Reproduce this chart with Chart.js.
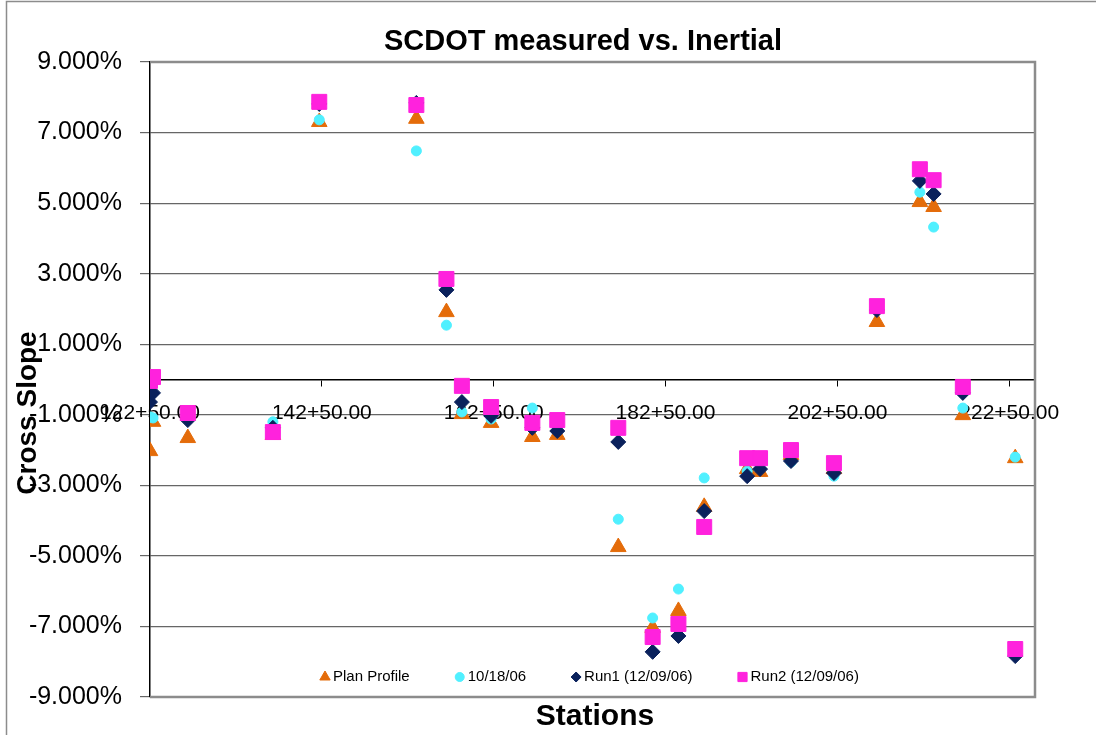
<!DOCTYPE html>
<html lang="en">
<head>
    <meta charset="UTF-8">
    <title>SCDOT measured vs. Inertial</title>
    <style>
        body {
            margin: 0;
            background: #fff;
        }
        .chart-box {
            width: 1096px;
            height: 735px;
        }
    </style>
    <script src="https://cdn.jsdelivr.net/npm/chart.js"></script>
</head>
<body>
    <div class="chart-box">
        <canvas id="slopeChart" width="1096" height="735"></canvas>
    </div>

    <script>
        // Stations (x) and cross slope in percent (y) per series
        const stations = [12250, 12285, 12690, 13680, 14220, 15350, 15700, 15880, 16220, 16700, 16990, 17700,
                          18100, 18400, 18700, 19200, 19350, 19710, 20210, 20710, 21210, 21370, 21710, 22320];
        const planProfile = [-2.03, -1.20, -1.66, -1.57, 7.30, 7.39, 1.91, -0.98, -1.23, -1.63, -1.57, -4.75,
                             -7.04, -6.56, -3.61, -2.54, -2.62, -2.14, -2.54, 1.63, 5.03, 4.89, -1.01, -2.23];
        const run101806 = [-1.06, -1.09, -1.09, -1.20, 7.36, 6.48, 1.54, -0.92, -1.12, -0.81, -1.43, -3.96,
                           -6.76, -5.94, -2.79, -2.60, -2.50, -2.34, -2.74, 1.97, 5.31, 4.32, -0.81, -2.20];
        const run1 = [-0.64, -0.38, -1.15, -1.37, 7.81, 7.84, 2.54, -0.64, -1.03, -1.37, -1.46, -1.77,
                      -7.72, -7.27, -3.73, -2.74, -2.54, -2.31, -2.65, 1.97, 5.63, 5.26, -0.38, -7.84];
        const run2 = [-0.04, 0.07, -0.95, -1.49, 7.87, 7.78, 2.85, -0.18, -0.78, -1.23, -1.15, -1.37,
                      -7.30, -6.93, -4.18, -2.23, -2.23, -2.00, -2.37, 2.08, 5.96, 5.65, -0.21, -7.64];

        const xTickValues = [12250, 14250, 16250, 18250, 20250, 22250];
        const seriesNames = ['Plan Profile', '10/18/06', 'Run1 (12/09/06)', 'Run2 (12/09/06)'];

        function toPoints(ys) {
            return stations.map((s, i) => ({ x: s, y: ys[i] }));
        }

        // station number -> "122+50.00"
        function stationLabel(v) {
            const hundreds = Math.floor(v / 100);
            const rest = (v - hundreds * 100).toFixed(2).padStart(5, '0');
            return hundreds + '+' + rest;
        }

        const FONT = '"Liberation Sans", Arial, sans-serif';

        const colors = ['#e46c0a', '#50f0ff', '#0a215c', '#ff22dd'];
        const styles = ['triangle', 'circle', 'rectRot', 'rect'];
        const radii = [9, 5, 7.5, 10.6];
        const legendRadii = [6, 4.5, 5, 6.5];
        const values = [planProfile, run101806, run1, run2];

        // titles, borders and the legend that sits inside the plot
        const decorations = {
            id: 'decorations',
            beforeDraw(chart) {
                const ctx = chart.ctx;
                ctx.save();
                ctx.fillStyle = '#fff';
                ctx.fillRect(0, 0, chart.width, chart.height);
                ctx.strokeStyle = '#8c8c8c';
                ctx.lineWidth = 1.5;
                ctx.beginPath();
                ctx.moveTo(6.5, chart.height);
                ctx.lineTo(6.5, 1.5);
                ctx.lineTo(chart.width, 1.5);
                ctx.stroke();
                ctx.restore();
            },
            afterDraw(chart) {
                const ctx = chart.ctx;
                const a = chart.chartArea;
                ctx.save();

                // plot area frame (top, right, bottom)
                ctx.strokeStyle = '#8c8c8c';
                ctx.lineWidth = 2.5;
                ctx.beginPath();
                ctx.moveTo(a.left, a.top);
                ctx.lineTo(a.right, a.top);
                ctx.lineTo(a.right, a.bottom);
                ctx.lineTo(a.left, a.bottom);
                ctx.stroke();

                // chart title
                ctx.fillStyle = '#000';
                ctx.textAlign = 'center';
                ctx.textBaseline = 'middle';
                ctx.font = 'bold 29px ' + FONT;
                ctx.fillText('SCDOT measured vs. Inertial', 583, 42);

                // x axis title
                ctx.font = 'bold 30px ' + FONT;
                ctx.fillText('Stations', 595, 717);

                // y axis title
                ctx.font = 'bold 28px ' + FONT;
                ctx.save();
                ctx.translate(28, 413);
                ctx.rotate(-Math.PI / 2);
                ctx.fillText('Cross Slope', 0, 0);
                ctx.restore();

                // legend
                ctx.font = '15px ' + FONT;
                ctx.textAlign = 'left';
                let x = 319;
                const y = 677;
                chart.data.datasets.forEach((ds, i) => {
                    ctx.fillStyle = colors[i];
                    ctx.strokeStyle = colors[i];
                    ctx.lineWidth = 1;
                    Chart.helpers.drawPoint(ctx, {
                        pointStyle: ds.pointStyle,
                        radius: legendRadii[i],
                        rotation: 0,
                        borderWidth: 1
                    }, x + 6, y);
                    ctx.fillStyle = '#000';
                    ctx.fillText(ds.label, x + 14, y);
                    x += 14 + ctx.measureText(ds.label).width + 44;
                });
                ctx.restore();
            }
        };

        const datasets = values.map((vals, i) => ({
            label: seriesNames[i],
            data: toPoints(vals),
            pointStyle: styles[i],
            pointRadius: radii[i],
            pointBackgroundColor: colors[i],
            pointBorderColor: colors[i],
            pointBorderWidth: 1,
            backgroundColor: colors[i],
            borderColor: colors[i],
            showLine: false,
            order: 4 - i
        }));

        const ctx = document.getElementById('slopeChart').getContext('2d');
        const chart = new Chart(ctx, {
            type: 'scatter',
            data: { datasets: datasets },
            options: {
                responsive: false,
                animation: false,
                events: [],
                layout: {
                    padding: { left: 0, right: 61, top: 62, bottom: 38 }
                },
                plugins: {
                    legend: { display: false },
                    tooltip: { enabled: false }
                },
                scales: {
                    x: {
                        type: 'linear',
                        position: { y: 0 },
                        min: 12250,
                        max: 22550,
                        afterBuildTicks: scale => {
                            scale.ticks = xTickValues.map(v => ({ value: v }));
                        },
                        grid: {
                            display: true,
                            drawOnChartArea: false,
                            drawTicks: true,
                            tickLength: 6,
                            tickColor: '#000',
                            lineWidth: 1
                        },
                        border: { display: true, color: '#000', width: 1.5 },
                        ticks: {
                            autoSkip: false,
                            maxRotation: 0,
                            padding: 15,
                            color: '#000',
                            font: { family: FONT, size: 21 },
                            callback: v => stationLabel(v)
                        }
                    },
                    y: {
                        type: 'linear',
                        position: 'left',
                        min: -9,
                        max: 9,
                        afterFit: scale => { scale.width = 150; },
                        grid: {
                            color: '#666',
                            lineWidth: 1.2,
                            tickLength: 10,
                            tickColor: '#666'
                        },
                        border: { display: true, color: '#000', width: 1.5 },
                        ticks: {
                            stepSize: 2,
                            padding: 18,
                            color: '#000',
                            font: { family: FONT, size: 25 },
                            callback: v => v.toFixed(3) + '%'
                        }
                    }
                }
            },
            plugins: [decorations]
        });
    </script>
</body>
</html>
